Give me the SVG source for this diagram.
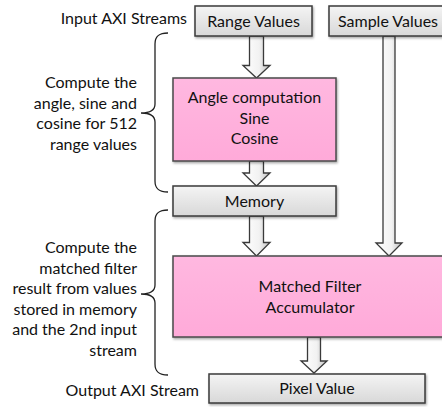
<svg xmlns="http://www.w3.org/2000/svg" width="442" height="407" viewBox="0 0 442 407">
<defs>
<linearGradient id="gGray" x1="0" y1="0" x2="0" y2="1">
<stop offset="0" stop-color="#f4f4f4"/>
<stop offset="1" stop-color="#d8d8d8"/>
</linearGradient>
<linearGradient id="gPink" x1="0" y1="0" x2="0" y2="1">
<stop offset="0" stop-color="#ffb8e0"/>
<stop offset="1" stop-color="#ffaad9"/>
</linearGradient>
<linearGradient id="gArrow" x1="0" y1="0" x2="1" y2="0">
<stop offset="0" stop-color="#ffffff"/>
<stop offset="0.6" stop-color="#f2f2f2"/>
<stop offset="1" stop-color="#bfbfbf"/>
</linearGradient>
<filter id="sh" x="-10%" y="-10%" width="120%" height="130%">
<feDropShadow dx="1" dy="1.5" stdDeviation="0.8" flood-color="#000" flood-opacity="0.35"/>
</filter>
</defs>
<style>
.box{fill:url(#gGray);stroke:#3a3a3a;stroke-width:1.5;filter:url(#sh)}
.pink{fill:url(#gPink);stroke:#4a4a4a;stroke-width:1.5;filter:url(#sh)}
.arr{fill:url(#gArrow);stroke:#3a3a3a;stroke-width:1.3;stroke-linejoin:miter}
.brace{fill:none;stroke:#222;stroke-width:1.3}
text{font-family:Lato,"Open Sans","Liberation Sans",sans-serif;font-size:16px;fill:#111}
.c{text-anchor:middle}
.r{text-anchor:end}
</style>

<g id="labels">
<text x="187" y="24" class="r">Input AXI Streams</text>
<text x="199" y="396" class="r">Output AXI Stream</text>
<text x="137" y="88" class="r">Compute the</text>
<text x="137" y="108.5" class="r">angle, sine and</text>
<text x="137" y="129" class="r">cosine for 512</text>
<text x="137" y="149.5" class="r">range values</text>
<text x="137" y="253" class="r">Compute the</text>
<text x="137" y="273.5" class="r">matched filter</text>
<text x="137" y="294" class="r">result from values</text>
<text x="137" y="314.5" class="r">stored in memory</text>
<text x="137" y="335" class="r">and the 2nd input</text>
<text x="137" y="355.5" class="r">stream</text>
</g>

<g id="braces">
<path class="brace" d="M168,33 C159,33 155,36 155,44 L155,104 C155,110 150,113 141,113 C150,113 155,116 155,122 L155,181 C155,189 159,192 168,192"/>
<path class="brace" d="M168,210 C159,210 155,213 155,221 L155,285 C155,291 150,294 141,294 C150,294 155,297 155,303 L155,364 C155,372 159,375 168,375"/>
</g>

<g id="connectors">
<path class="arr" d="M249.5,36 H263.5 V65.5 H270 L256.5,78 L243,65.5 H249.5 Z"/>
<path class="arr" d="M249.5,161 H263.5 V173 H270 L256.5,186 L243,173 H249.5 Z"/>
<path class="arr" d="M249.5,216 H263.5 V242.5 H270 L256.5,256 L243,242.5 H249.5 Z"/>
<path class="arr" d="M383,36 H395 V243 H402 L389,256 L376,243 H383 Z"/>
<path class="arr" d="M307.5,337 H320.5 V361 H327 L314,373 L301,361 H307.5 Z"/>
</g>

<g id="range">
<rect class="box" x="195" y="6" width="117" height="30"/>
<text x="253.5" y="27" class="c">Range Values</text>
</g>
<g id="sample">
<rect class="box" x="329" y="6" width="119" height="30"/>
<text x="388" y="27" class="c">Sample Values</text>
</g>
<g id="angle">
<rect class="pink" x="173" y="78" width="163" height="83"/>
<text x="254.5" y="103" class="c">Angle computation</text>
<text x="254.5" y="123.5" class="c">Sine</text>
<text x="254.5" y="144" class="c">Cosine</text>
</g>
<g id="memory">
<rect class="box" x="173" y="186" width="163" height="30"/>
<text x="254.5" y="207" class="c">Memory</text>
</g>
<g id="mf">
<rect class="pink" x="173" y="256" width="275" height="81"/>
<text x="310" y="292" class="c">Matched Filter</text>
<text x="310" y="312.5" class="c">Accumulator</text>
</g>
<g id="pixel">
<rect class="box" x="209" y="374" width="216" height="29"/>
<text x="317" y="394" class="c">Pixel Value</text>
</g>
</svg>
